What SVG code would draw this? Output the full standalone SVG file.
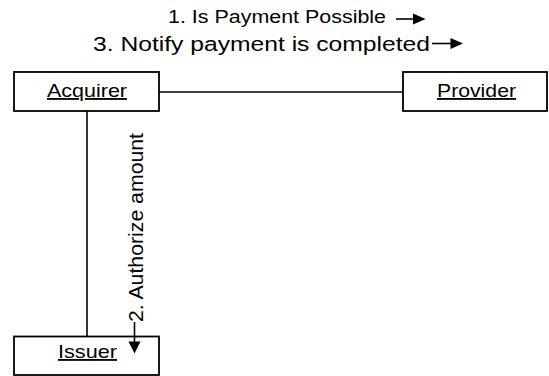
<svg xmlns="http://www.w3.org/2000/svg" width="549" height="376" viewBox="0 0 549 376">
  <style>
    .box { fill: #ffffff; stroke: #000000; stroke-width: 1.8; }
    .conn { stroke: #000000; stroke-width: 1.6; fill: none; }
    .lbl { font-family: "Liberation Sans", Arial, sans-serif; font-size: 18.5px; fill: #000000; text-anchor: middle; text-decoration: underline; }
    .msg { font-family: "Liberation Sans", Arial, sans-serif; fill: #000000; }
    .head { fill: #000000; stroke: none; }
  </style>
  <rect width="549" height="376" fill="#ffffff"/>
  <g id="connectors">
    <line class="conn" x1="159" y1="92" x2="403" y2="92"/>
    <line class="conn" x1="87" y1="111" x2="87" y2="336.5"/>
  </g>
  <g id="acquirer">
    <rect class="box" x="14" y="72" width="145" height="39"/>
    <text class="lbl" x="87" y="97" textLength="80" lengthAdjust="spacingAndGlyphs">Acquirer</text>
  </g>
  <g id="provider">
    <rect class="box" x="403" y="72" width="144" height="39"/>
    <text class="lbl" x="476.5" y="97" textLength="79" lengthAdjust="spacingAndGlyphs">Provider</text>
  </g>
  <g id="issuer">
    <rect class="box" x="14" y="336.5" width="145" height="38.5"/>
    <text class="lbl" x="87.5" y="358" textLength="59" lengthAdjust="spacingAndGlyphs">Issuer</text>
  </g>
  <g id="messages">
    <text class="msg" x="168" y="22.5" font-size="17.5" textLength="218" lengthAdjust="spacingAndGlyphs">1. Is Payment Possible</text>
    <line class="conn" x1="396" y1="19" x2="414" y2="19"/>
    <polygon class="head" points="413,13.5 425.5,19 413,24.5"/>
    <text class="msg" x="93" y="50.5" font-size="20.5" textLength="337" lengthAdjust="spacingAndGlyphs">3. Notify payment is completed</text>
    <line class="conn" x1="432" y1="43.5" x2="452" y2="43.5"/>
    <polygon class="head" points="450.5,38 463,43.5 450.5,49"/>
    <text class="msg" transform="translate(143,322) rotate(-90)" font-size="21" textLength="189" lengthAdjust="spacingAndGlyphs">2. Authorize amount</text>
    <line class="conn" x1="134.5" y1="322" x2="134.5" y2="343"/>
    <polygon class="head" points="128.5,341.5 140.5,341.5 134.5,353.5"/>
  </g>
</svg>
